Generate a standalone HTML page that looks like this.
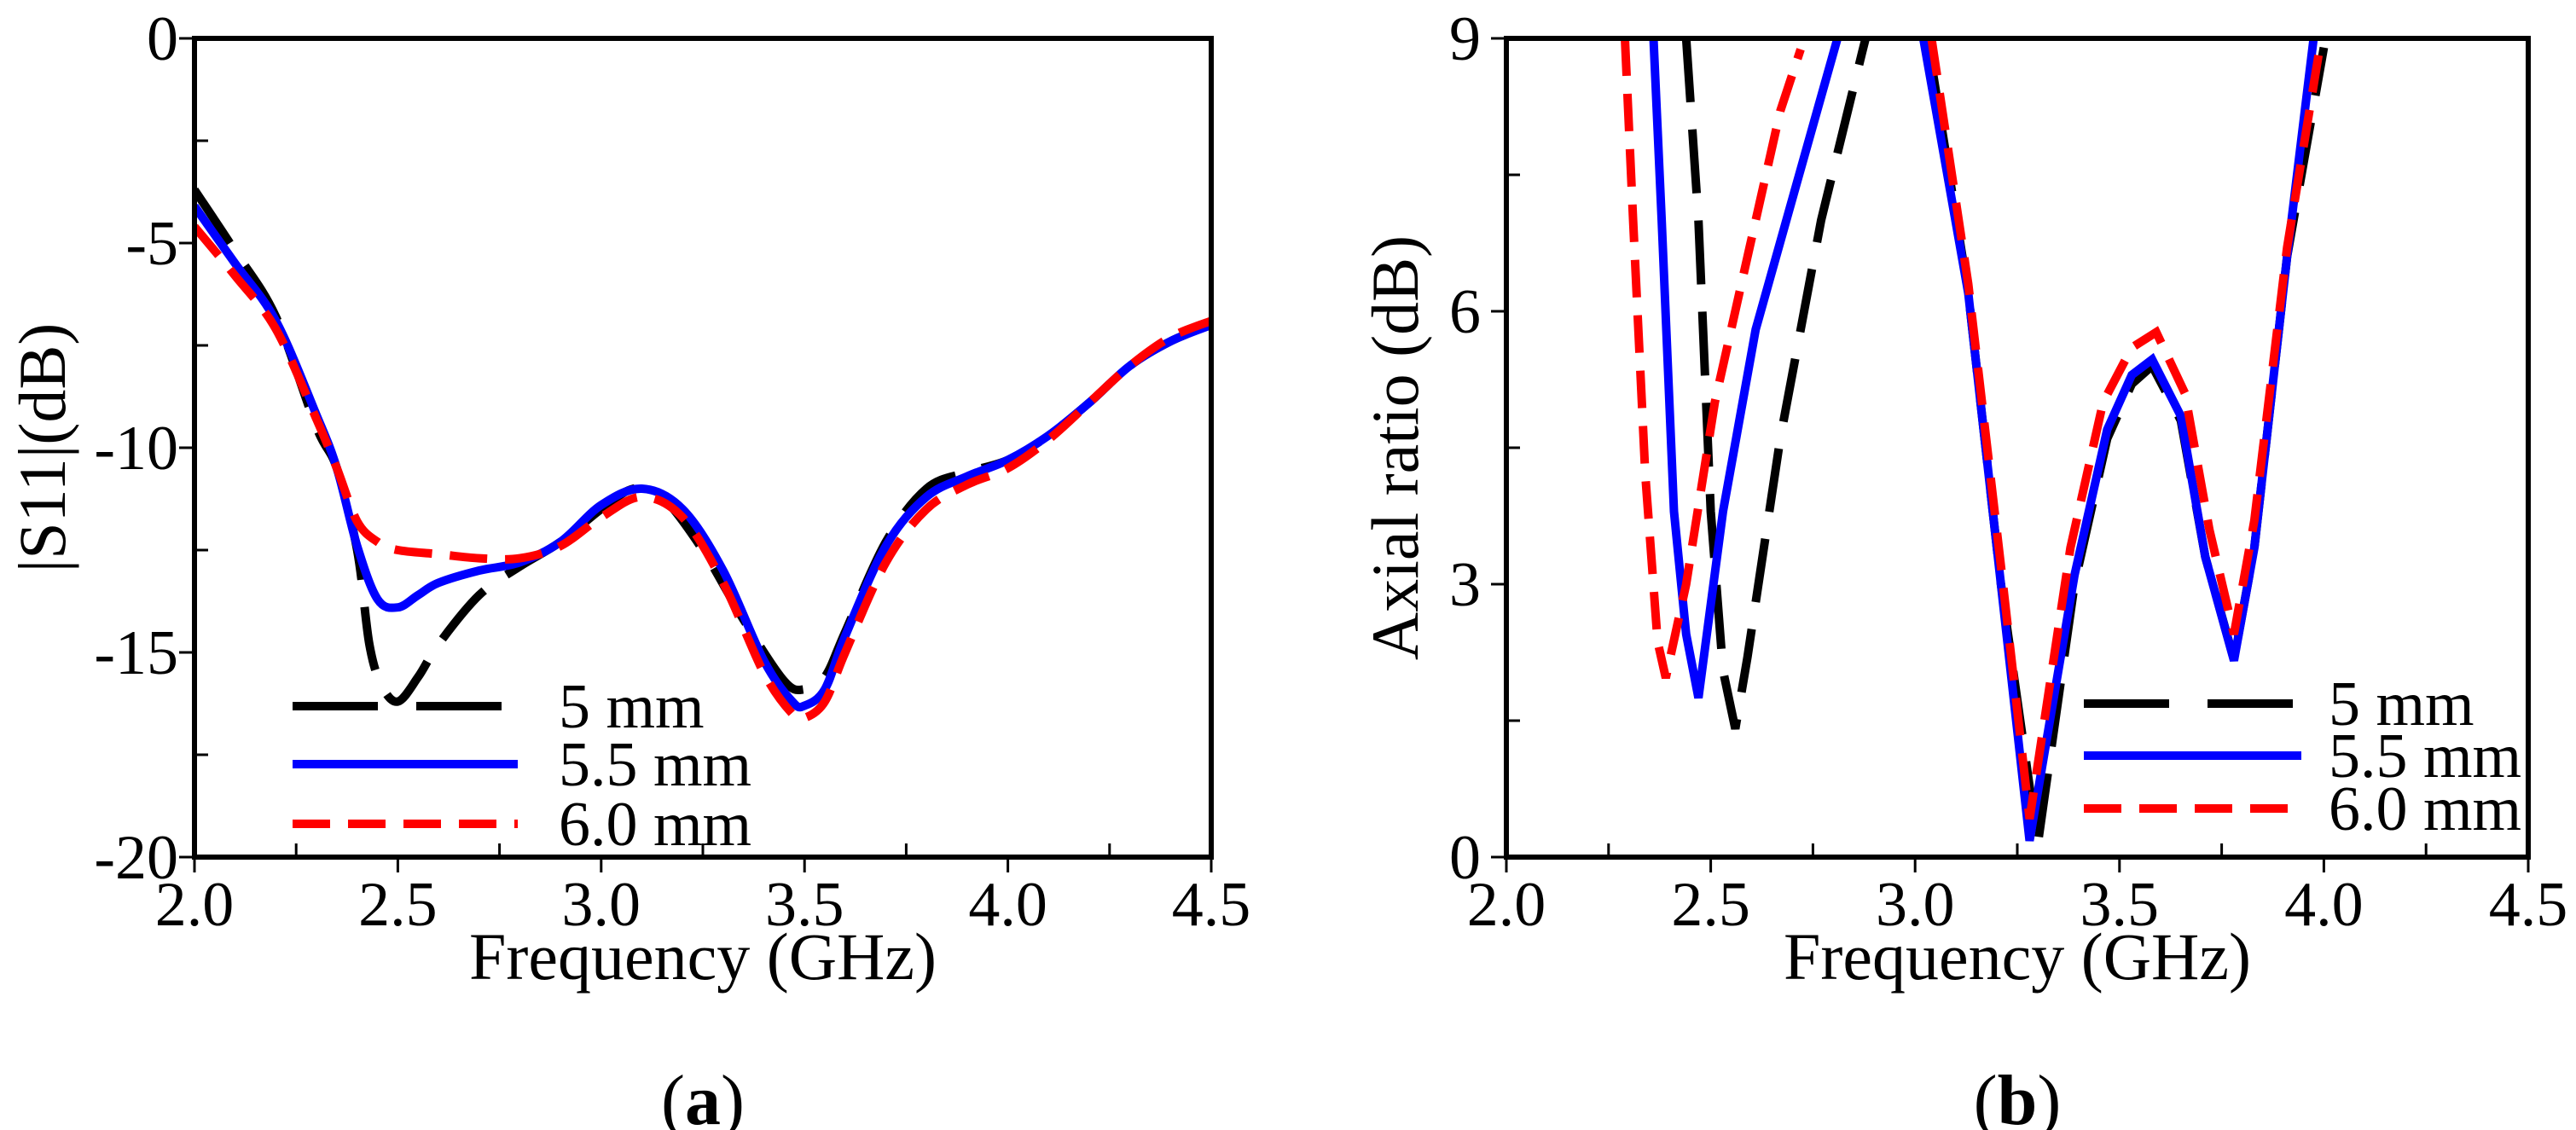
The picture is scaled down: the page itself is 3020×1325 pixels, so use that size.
<!DOCTYPE html>
<html><head><meta charset="utf-8">
<style>
html,body{margin:0;padding:0;background:#fff;}
svg{display:block;}
text{font-family:"Liberation Serif","DejaVu Serif","Times New Roman",serif;fill:#000;}
</style></head>
<body>
<svg id="fig" width="3020" height="1325" viewBox="0 0 3020 1325" xmlns="http://www.w3.org/2000/svg">
<defs>
<clipPath id="clipA"><rect x="228" y="45" width="1192" height="960"/></clipPath>
<clipPath id="clipB"><rect x="1766" y="45" width="1198" height="960"/></clipPath>
</defs>
<g id="panelA"></g>
<g id="panelB"></g>
</svg>
<script>
// ---- Panel (a) data ----
const s11Freq5 = [2.0,2.1,2.2,2.3,2.35,2.4,2.43,2.46,2.5,2.55,2.6,2.7,2.8,2.9,3.0,3.08,3.15,3.25,3.35,3.45,3.5,3.55,3.6,3.7,3.8,3.9,4.0,4.1,4.2,4.3,4.4,4.5];
const s11Val5 = [-3.7,-5.2,-6.8,-9.5,-10.5,-12.5,-14.8,-15.8,-16.2,-15.6,-14.8,-13.6,-12.9,-12.3,-11.5,-11.0,-11.2,-12.5,-14.2,-15.7,-15.9,-15.6,-14.5,-12.3,-11.0,-10.6,-10.3,-9.7,-8.9,-8.0,-7.4,-7.0];
const s11Freq55 = [2.0,2.1,2.2,2.3,2.35,2.4,2.45,2.5,2.55,2.6,2.7,2.8,2.9,3.0,3.1,3.2,3.3,3.4,3.47,3.5,3.55,3.6,3.7,3.8,3.9,4.0,4.1,4.2,4.3,4.4,4.5];
const s11Val55 = [-4.1,-5.5,-6.9,-9.2,-10.5,-12.4,-13.7,-13.9,-13.6,-13.3,-13.0,-12.8,-12.3,-11.4,-11.0,-11.5,-13.0,-15.2,-16.2,-16.3,-15.9,-14.6,-12.4,-11.2,-10.7,-10.3,-9.7,-8.9,-8.0,-7.4,-7.0];
const s11Freq60 = [2.0,2.1,2.2,2.3,2.35,2.4,2.45,2.5,2.6,2.7,2.8,2.9,3.0,3.1,3.2,3.3,3.4,3.47,3.5,3.55,3.6,3.7,3.8,3.9,4.0,4.1,4.2,4.3,4.4,4.5];
const s11Val60 = [-4.6,-5.8,-7.1,-9.3,-10.5,-11.8,-12.3,-12.5,-12.6,-12.7,-12.7,-12.4,-11.7,-11.2,-11.7,-13.3,-15.5,-16.5,-16.6,-16.2,-15.0,-12.8,-11.5,-10.9,-10.5,-9.8,-8.9,-8.0,-7.3,-6.9];
const aXTicks = [2.0,2.5,3.0,3.5,4.0,4.5];
const aXTickLabels = ["2.0","2.5","3.0","3.5","4.0","4.5"];
const aYTicks = [0,-5,-10,-15,-20];
const aYTickLabels = ["0","-5","-10","-15","-20"];
// ---- Panel (b) data ----
const arFreq5a = [2.44,2.47,2.50,2.53,2.56,2.59,2.67,2.77,2.87,2.89];
const arVal5a = [9.0,7.0,3.8,2.05,1.41,2.2,4.6,7.0,8.84,9.2];
const arFreq5b = [3.03,3.13,3.21,3.30,3.39,3.47,3.53,3.58,3.65,3.71,3.78,3.83,3.91,4.0];
const arVal5b = [9.0,6.2,3.0,0.14,3.0,4.6,5.2,5.4,4.8,3.3,2.17,3.4,6.6,8.9];
const arFreq55a = [2.36,2.38,2.41,2.44,2.47,2.53,2.61,2.71,2.81];
const arVal55a = [9.0,7.0,3.8,2.45,1.75,3.8,5.8,7.4,9.0];
const arFreq55b = [3.02,3.13,3.21,3.28,3.39,3.47,3.53,3.58,3.65,3.71,3.78,3.83,3.91,3.975];
const arVal55b = [9.0,6.2,3.0,0.18,3.1,4.7,5.3,5.47,4.85,3.3,2.16,3.4,6.6,9.0];
const arFreq60a = [2.29,2.31,2.34,2.37,2.39,2.44,2.51,2.59,2.67,2.72];
const arVal60a = [9.0,7.0,4.2,2.37,1.97,3.0,5.0,6.6,8.2,8.88];
const arFreq60b = [3.04,3.13,3.21,3.28,3.38,3.46,3.53,3.59,3.66,3.72,3.78,3.83,3.91,3.99];
const arVal60b = [9.0,6.3,3.2,0.42,3.4,5.0,5.6,5.77,5.1,3.6,2.45,3.7,6.7,8.9];
const bXTicks = [2.0,2.5,3.0,3.5,4.0,4.5];
const bXTickLabels = ["2.0","2.5","3.0","3.5","4.0","4.5"];
const bYTicks = [0,3,6,9];
const bYTickLabels = ["0","3","6","9"];
const legendLabels = ["5 mm","5.5 mm","6.0 mm"];

const NS = "http://www.w3.org/2000/svg";
const FONT = '"Liberation Serif","DejaVu Serif",serif';
function mk(tag, attrs, parent){
  const e = document.createElementNS(NS, tag);
  for (const k in attrs) e.setAttribute(k, attrs[k]);
  if (tag === "text") e.setAttribute("font-family", FONT);
  parent.appendChild(e);
  return e;
}
function smoothPath(pts){
  let d = "M" + pts[0][0].toFixed(1) + "," + pts[0][1].toFixed(1);
  for (let i=0;i<pts.length-1;i++){
    const p0 = pts[i-1]||pts[i], p1=pts[i], p2=pts[i+1], p3=pts[i+2]||pts[i+1];
    const c1x = p1[0]+(p2[0]-p0[0])/6, c1y = p1[1]+(p2[1]-p0[1])/6;
    const c2x = p2[0]-(p3[0]-p1[0])/6, c2y = p2[1]-(p3[1]-p1[1])/6;
    d += " C"+c1x.toFixed(1)+","+c1y.toFixed(1)+" "+c2x.toFixed(1)+","+c2y.toFixed(1)+" "+p2[0].toFixed(1)+","+p2[1].toFixed(1);
  }
  return d;
}
function linePath(pts){
  return pts.map((p,i)=>(i?"L":"M")+p[0].toFixed(1)+","+p[1].toFixed(1)).join(" ");
}
const styles = [
  {stroke:"#000000", dash:"75,32"},
  {stroke:"#0000ff", dash:"none"},
  {stroke:"#ff0000", dash:"44,21"}
];
const legendDash = ["100,45","none","44,21"];

function drawPanel(g, cfg){
  const {x0,x1,y0,y1,xmin,xmax,ymin,ymax} = cfg;
  const X = v => x0 + (v-xmin)/(xmax-xmin)*(x1-x0);
  const Y = v => y1 - (v-ymin)/(ymax-ymin)*(y1-y0);
  const sg = mk("g",{"clip-path":"url(#"+cfg.clip+")"}, g);
  
  
  cfg.series.forEach(s=>{
    s.segs.forEach(seg=>{
      const pts = seg[0].map((f,i)=>[X(f),Y(seg[1][i])]);
      const p = mk("path",{d: cfg.smooth?smoothPath(pts):linePath(pts), fill:"none", stroke:styles[s.idx].stroke,
        "stroke-width":10, "stroke-dasharray":styles[s.idx].dash, "stroke-linejoin":"miter","stroke-linecap":"butt"}, sg);
      
      
    });
  });
  const fr = mk("rect",{x:x0,y:y0,width:x1-x0,height:y1-y0,fill:"none",stroke:"#000","stroke-width":6}, g);
  
  
  cfg.xTicks.forEach((t,i)=>{
    const tx = X(t);
    const tk = mk("line",{x1:tx,y1:y1,x2:tx,y2:y1+18,stroke:"#000","stroke-width":3}, g);
    
    
    const lb = mk("text",{x:tx,y:cfg.xLabelY,"font-size":74,"text-anchor":"middle"}, g);
    lb.textContent = cfg.xTickLabels[i];
    
    
    if (i < cfg.xTicks.length-1){
      const mx = X(t + (cfg.xTicks[1]-cfg.xTicks[0])/2);
      const m1 = mk("line",{x1:mx,y1:y1,x2:mx,y2:y1-16,stroke:"#000","stroke-width":3}, g);
      
      
    }
  });
  cfg.yTicks.forEach((t,i)=>{
    const ty = Y(t);
    const tk = mk("line",{x1:x0-18,y1:ty,x2:x0,y2:ty,stroke:"#000","stroke-width":3}, g);
    
    
    const lb = mk("text",{x:cfg.yLabelX,y:ty+25,"font-size":74,"text-anchor":"end"}, g);
    lb.textContent = cfg.yTickLabels[i];
    
    
  });
  const step = cfg.yTicks[1]-cfg.yTicks[0];
  for (let i=0;i<cfg.yTicks.length-1;i++){
    const my = Y(cfg.yTicks[i]+step/2);
    const m = mk("line",{x1:x0,y1:my,x2:x0+16,y2:my,stroke:"#000","stroke-width":3}, g);
    
    
  }
  const xt = mk("text",{x:(x0+x1)/2,y:cfg.xTitleY,"font-size":78,"text-anchor":"middle"}, g);
  xt.textContent = "Frequency (GHz)";
  
  
  const yt = mk("text",{x:0,y:0,"font-size":78,"text-anchor":"middle",transform:"translate("+cfg.yTitleX+","+((y0+y1)/2)+") rotate(-90)"}, g);
  yt.textContent = cfg.yTitle;
  
  
  const cap = mk("text",{x:(x0+x1)/2,y:1318,"font-size":84,"text-anchor":"middle"}, g);
  cap.innerHTML = '(<tspan font-weight="bold">'+cfg.caption+'</tspan>)';
  
  
  const lg = mk("g",{}, g);
  
  
  legendLabels.forEach((lab,i)=>{
    const ly = cfg.legRows[i];
    const ln = mk("line",{x1:cfg.legX0,y1:ly,x2:cfg.legX1,y2:ly,stroke:styles[i].stroke,"stroke-width":10,"stroke-dasharray":legendDash[i]}, lg);
    
    
    const tx = mk("text",{x:cfg.legTX,y:ly+25,"font-size":74}, lg);
    tx.textContent = lab;
    
    
  });
}

drawPanel(document.getElementById("panelA"), {
  x0:228,x1:1420,y0:45,y1:1005,xmin:2,xmax:4.5,ymin:-20,ymax:0,clip:"clipA",smooth:true,
  series:[
    {idx:0,name:"s11-5mm-line",segs:[[s11Freq5,s11Val5]]},
    {idx:1,name:"s11-5.5mm-line",segs:[[s11Freq55,s11Val55]]},
    {idx:2,name:"s11-6.0mm-line",segs:[[s11Freq60,s11Val60]]}
  ],
  xTicks:aXTicks,xTickLabels:aXTickLabels,yTicks:aYTicks,yTickLabels:aYTickLabels,
  xLabelY:1085,yLabelX:209,xTitleY:1148,yTitleX:76,yTitle:"|S11|(dB)",caption:"a",
  legRows:[828,896,966],legX0:343,legX1:607,legTX:655
});
drawPanel(document.getElementById("panelB"), {
  x0:1766,x1:2964,y0:45,y1:1005,xmin:2,xmax:4.5,ymin:0,ymax:9,clip:"clipB",smooth:false,
  series:[
    {idx:0,name:"ar-5mm-line",segs:[[arFreq5a,arVal5a],[arFreq5b,arVal5b]]},
    {idx:1,name:"ar-5.5mm-line",segs:[[arFreq55a,arVal55a],[arFreq55b,arVal55b]]},
    {idx:2,name:"ar-6.0mm-line",segs:[[arFreq60a,arVal60a],[arFreq60b,arVal60b]]}
  ],
  xTicks:bXTicks,xTickLabels:bXTickLabels,yTicks:bYTicks,yTickLabels:bYTickLabels,
  xLabelY:1085,yLabelX:1736,xTitleY:1148,yTitleX:1662,yTitle:"Axial ratio (dB)",caption:"b",
  legRows:[825,886,948],legX0:2443,legX1:2698,legTX:2730
});
</script>
</body></html>
